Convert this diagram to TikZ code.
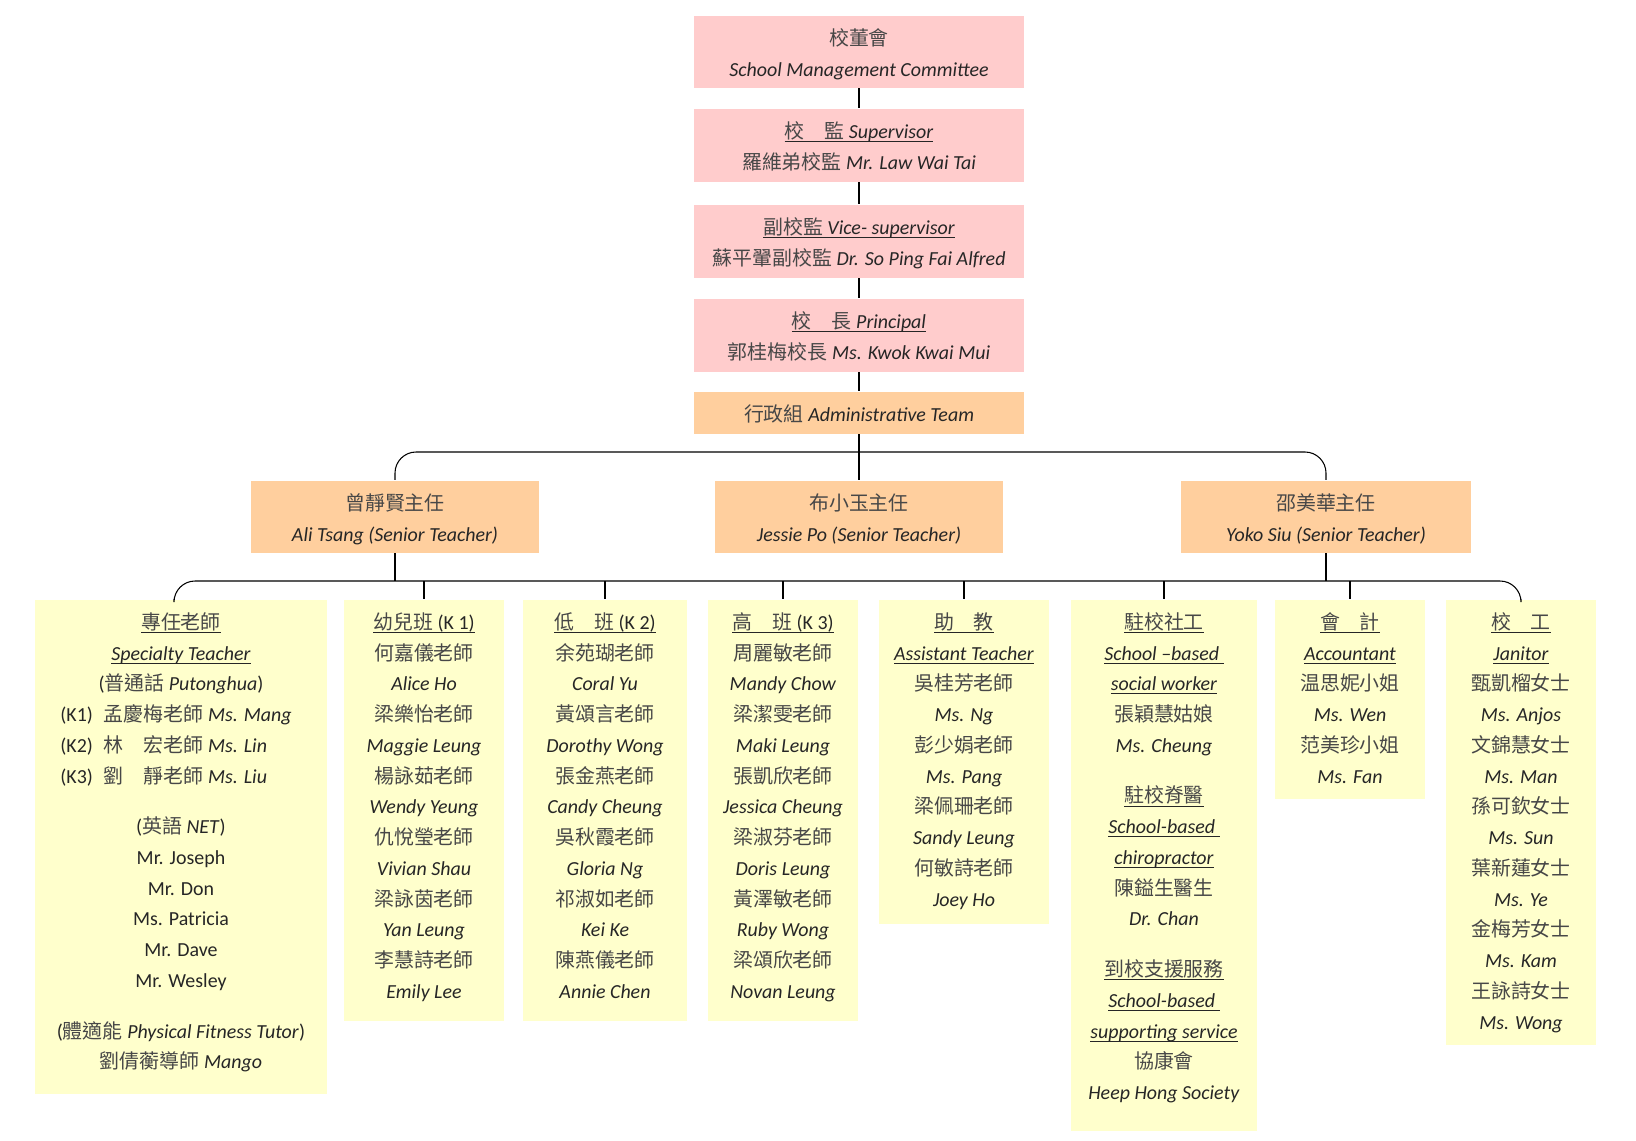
\documentclass[tikz,border=0pt]{standalone}
\usepackage{fontspec}
\setmainfont{Carlito}
\newfontfamily\cjk{Noto Sans CJK TC}
\usepackage{tikz}
\definecolor{pinkbox}{RGB}{255,204,204}
\definecolor{peachbox}{RGB}{255,207,158}
\definecolor{creambox}{RGB}{255,255,204}
\newcommand\zh[1]{{\cjk\color{black!72}#1}}
\newsavebox\ulbox
\newcommand\undl[1]{\leavevmode\sbox\ulbox{#1}\rlap{\rule[-2pt]{\wd\ulbox}{0.55pt}}\usebox\ulbox}
% text block fixed at the top of its box
\newcommand\boxtext[3]{\parbox[c][#2][t]{#1}{\centering\rule{0pt}{17pt}#3\par}}
\tikzset{
  topbox/.style={fill=pinkbox, anchor=north, inner sep=0pt},
  adminbox/.style={fill=peachbox, anchor=north, inner sep=0pt},
  seniorbox/.style={fill=peachbox, anchor=north, inner sep=0pt},
  staffbox/.style={fill=creambox, anchor=north, inner sep=0pt}
}
\begin{document}
\begin{tikzpicture}[x=0.02cm, y=-0.02cm, line width=0.6pt, text=black!85,
    font=\fontsize{11.34}{17.5}\selectfont]
    \useasboundingbox (0,0) rectangle (1636,1141);

    % Top of the school
    \node[topbox] (smc) at (859,15) {\boxtext{6.6cm}{1.44cm}{\zh{校董會}\\\textit{School Management Committee}}};
    \node[topbox] (sup) at (859,108) {\boxtext{6.6cm}{1.46cm}{\undl{\zh{校　監} \textit{Supervisor}}\\\zh{羅維弟校監} \textit{Mr. Law Wai Tai}}};
    \node[topbox] (vice) at (859,204) {\boxtext{6.6cm}{1.46cm}{\undl{\zh{副校監} \textit{Vice- supervisor}}\\\zh{蘇平翬副校監} \textit{Dr. So Ping Fai Alfred}}};
    \node[topbox] (prin) at (859,298) {\boxtext{6.6cm}{1.46cm}{\undl{\zh{校　長} \textit{Principal}}\\\zh{郭桂梅校長} \textit{Ms. Kwok Kwai Mui}}};
    \node[adminbox] (admin) at (859,391) {\boxtext{6.62cm}{0.84cm}{\zh{行政組} \textit{Administrative Team}}};

    % Senior teachers
    \node[seniorbox] (ali) at (395,480) {\boxtext{5.78cm}{1.44cm}{\zh{曾靜賢主任}\\\textit{Ali Tsang (Senior Teacher)}}};
    \node[seniorbox] (jessie) at (859,480) {\boxtext{5.78cm}{1.44cm}{\zh{布小玉主任}\\\textit{Jessie Po (Senior Teacher)}}};
    \node[seniorbox] (yoko) at (1326,480) {\boxtext{5.8cm}{1.44cm}{\zh{邵美華主任}\\\textit{Yoko Siu (Senior Teacher)}}};

    % Staff
    \node[staffbox] (spec) at (181,599) {\boxtext{5.84cm}{9.9cm}{%
        \undl{\zh{專任老師}}\\\undl{\textit{Specialty Teacher}}\\(\zh{普通話} \textit{Putonghua})\\
        \makebox[12.1em][l]{(K1)\hspace{0.55em}\zh{孟慶梅老師} \textit{Ms. Mang}}\\
        \makebox[12.1em][l]{(K2)\hspace{0.55em}\zh{林　宏老師} \textit{Ms. Lin}}\\
        \makebox[12.1em][l]{(K3)\hspace{0.55em}\zh{劉　靜老師} \textit{Ms. Liu}}\\[11.3pt]
        (\zh{英語} \textit{NET})\\Mr. Joseph\\Mr. Don\\Ms. Patricia\\Mr. Dave\\Mr. Wesley\\[11.3pt]
        (\zh{體適能} \textit{Physical Fitness Tutor})\\\zh{劉倩蘅導師} \textit{Mango}}};
    \node[staffbox] (k1) at (424,599) {\boxtext{3.2cm}{8.44cm}{%
        \undl{\zh{幼兒班} (K 1)}\\\zh{何嘉儀老師}\\\textit{Alice Ho}\\\zh{梁樂怡老師}\\\textit{Maggie Leung}\\
        \zh{楊詠茹老師}\\\textit{Wendy Yeung}\\\zh{仇悅瑩老師}\\\textit{Vivian Shau}\\
        \zh{梁詠茵老師}\\\textit{Yan Leung}\\\zh{李慧詩老師}\\\textit{Emily Lee}}};
    \node[staffbox] (k2) at (605,599) {\boxtext{3.28cm}{8.44cm}{%
        \undl{\zh{低　班} (K 2)}\\\zh{余苑瑚老師}\\\textit{Coral Yu}\\\zh{黃頌言老師}\\\textit{Dorothy Wong}\\
        \zh{張金燕老師}\\\textit{Candy Cheung}\\\zh{吳秋霞老師}\\\textit{Gloria Ng}\\
        \zh{祁淑如老師}\\\textit{Kei Ke}\\\zh{陳燕儀老師}\\\textit{Annie Chen}}};
    \node[staffbox] (k3) at (783,599) {\boxtext{3.0cm}{8.44cm}{%
        \undl{\zh{高　班} (K 3)}\\\zh{周麗敏老師}\\\textit{Mandy Chow}\\\zh{梁潔雯老師}\\\textit{Maki Leung}\\
        \zh{張凱欣老師}\\\textit{Jessica Cheung}\\\zh{梁淑芬老師}\\\textit{Doris Leung}\\
        \zh{黃澤敏老師}\\\textit{Ruby Wong}\\\zh{梁頌欣老師}\\\textit{Novan Leung}}};
    \node[staffbox] (assist) at (964,599) {\boxtext{3.4cm}{6.5cm}{%
        \undl{\zh{助　教}}\\\undl{\textit{Assistant Teacher}}\\\zh{吳桂芳老師}\\\textit{Ms. Ng}\\
        \zh{彭少娟老師}\\\textit{Ms. Pang}\\\zh{梁佩珊老師}\\\textit{Sandy Leung}\\
        \zh{何敏詩老師}\\\textit{Joey Ho}}};
    \node[staffbox] (social) at (1164,599) {\boxtext{3.72cm}{10.64cm}{%
        \undl{\zh{駐校社工}}\\\undl{\textit{School --based\ }}\\\undl{\textit{social worker}}\\
        \zh{張穎慧姑娘}\\\textit{Ms. Cheung}\\[11.3pt]
        \undl{\zh{駐校脊醫}}\\\undl{\textit{School-based\ }}\\\undl{\textit{chiropractor}}\\
        \zh{陳鎰生醫生}\\\textit{Dr. Chan}\\[11.3pt]
        \undl{\zh{到校支援服務}}\\\undl{\textit{School-based\ }}\\\undl{\textit{supporting service}}\\
        \zh{協康會}\\\textit{Heep Hong Society}}};
    \node[staffbox] (acc) at (1350,599) {\boxtext{3.0cm}{4.0cm}{%
        \undl{\zh{會　計}}\\\undl{\textit{Accountant}}\\\zh{温思妮小姐}\\\textit{Ms. Wen}\\
        \zh{范美珍小姐}\\\textit{Ms. Fan}}};
    \node[staffbox] (jan) at (1521,599) {\boxtext{3.0cm}{8.92cm}{%
        \undl{\zh{校　工}}\\\undl{\textit{Janitor}}\\\zh{甄凱榴女士}\\\textit{Ms. Anjos}\\
        \zh{文錦慧女士}\\\textit{Ms. Man}\\\zh{孫可欽女士}\\\textit{Ms. Sun}\\
        \zh{葉新蓮女士}\\\textit{Ms. Ye}\\\zh{金梅芳女士}\\\textit{Ms. Kam}\\
        \zh{王詠詩女士}\\\textit{Ms. Wong}}};

    % Lines
    \draw (smc) -- (sup);
    \draw (sup) -- (vice);
    \draw (vice) -- (prin);
    \draw (prin) -- (admin);
    \draw (admin) -- (jessie);
    \coordinate (topbus) at (859,452);
    \draw[rounded corners=12pt] (ali.north) |- (topbus) -| (yoko.north);

    \coordinate (lowbus) at (859,581);
    \draw[rounded corners=12pt] ([xshift=-0.14cm]spec.north) |- (lowbus) -| (jan.north);
    \draw (ali.south) -- (ali.south |- lowbus);
    \draw (yoko.south) -- (yoko.south |- lowbus);
    \foreach \n in {k1,k2,k3,assist,social,acc} {
        \draw (\n.north) -- (\n.north |- lowbus);
    }
\end{tikzpicture}
\end{document}
